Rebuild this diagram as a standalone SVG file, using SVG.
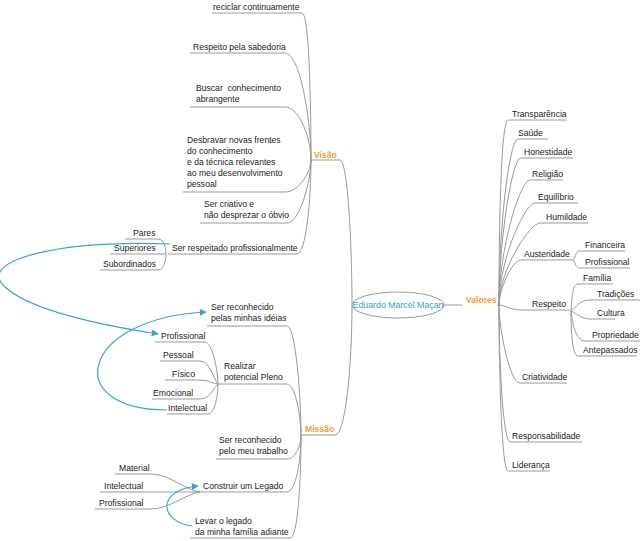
<svg xmlns="http://www.w3.org/2000/svg" width="640" height="541" viewBox="0 0 640 541">
<style>
text{font-family:"Liberation Sans",Arial,sans-serif;font-size:8.6px;fill:#222;white-space:pre}
.m{fill:#f39a3c;font-weight:bold}
.c{fill:#3a9ec0;font-size:8.8px}
.l{fill:none;stroke:#999;stroke-width:1}
.b{fill:none;stroke:#3aa3d3;stroke-width:1.2;marker-end:url(#ar)}
</style>
<defs><marker id="ar" viewBox="0 0 10 10" refX="9" refY="5" markerWidth="7" markerHeight="7" orient="auto" markerUnits="userSpaceOnUse"><path d="M0,0L10,5L0,10z" fill="#3aa3d3"/></marker></defs>
<rect width="640" height="541" fill="#fff"/>
<g id="connectors">
<path class="l" d="M444,305H462 M497,305H499"/>
<path class="l" d="M310,160H340 C348,160 352,250 352,305"/>
<path class="l" d="M302,435H335 C346,435 352,360 352,305"/>
<path class="l" d="M212,13H302 C309,13 311,100 311,160"/>
<path class="l" d="M190,53H285 C300,53 311,120 311,160"/>
<path class="l" d="M190,107H285 C300,107 311,140 311,160"/>
<path class="l" d="M183,192H285 C300,192 311,170 311,160"/>
<path class="l" d="M200,223H287 C300,223 311,180 311,160"/>
<path class="l" d="M168,254H297 C306,254 311,200 311,160"/>
<path class="l" d="M125,239H158 C164,239 166,248 166,254 M110,254H166 M100,270H158 C164,270 166,260 166,254"/>
<path class="l" d="M207,326H287 C296,326 301,400 301,435"/>
<path class="l" d="M218,384H287 C296,384 301,420 301,435"/>
<path class="l" d="M216,459H287 C296,459 301,445 301,435"/>
<path class="l" d="M199,492H287 C296,492 301,460 301,435"/>
<path class="l" d="M190,538H290 C298,538 301,480 301,435"/>
<path class="l" d="M155,342H205 C212,342 218,370 218,384 M160,361H200 C210,361 214,380 218,384 M165,380H200 C208,380 214,384 218,384 M152,399H200 C210,399 214,388 218,384 M167,414H208 C215,414 218,395 218,384"/>
<path class="l" d="M115,474H150 C170,474 185,490 200,492 M100,492H200 M95,509H150 C170,509 185,494 200,492"/>
<path class="l" d="M567,120H508 C502,120 499,200 499,305"/>
<path class="l" d="M548,139H518 C510,139 499,220 499,305"/>
<path class="l" d="M573,158H521 C512,158 499,240 499,305"/>
<path class="l" d="M563,180H530 C520,180 499,250 499,305"/>
<path class="l" d="M578,203H535 C525,203 499,260 499,305"/>
<path class="l" d="M588,223H540 C530,223 499,270 499,305"/>
<path class="l" d="M573,260H521 C512,260 499,290 499,305"/>
<path class="l" d="M570,310H522 C510,310 505,305 499,305"/>
<path class="l" d="M567,383H520 C510,383 499,330 499,305"/>
<path class="l" d="M582,442H510 C503,442 499,360 499,305"/>
<path class="l" d="M550,471H508 C502,471 499,380 499,305"/>
<path class="l" d="M625,251H580 C575,251 575,260 573,260 M630,268H580 C575,268 575,260 573,260"/>
<path class="l" d="M613,284H578 C572,284 572,300 571,311 M640,300H590 C580,300 575,308 571,311 M615,319H590 C580,319 575,312 571,311 M640,341H585 C575,341 572,320 571,311 M637,356H578 C572,356 571,330 571,311"/>
<path class="b" d="M170,244 C60,240 -25,260 5,287 C30,310 100,325 158,334"/>
<path class="b" d="M167,410 C60,410 80,318 206,312"/>
<path class="b" d="M192,526 C160,522 155,490 198,486"/>
</g>
<g id="center"><ellipse cx="398" cy="305" rx="46" ry="13" fill="#fff" stroke="#999"/><text class="c" x="398" y="308" text-anchor="middle">Eduardo Marcel Maçan</text></g>
<g id="visao"><text class="m" x="314" y="158">Visão</text></g>
<g id="missao"><text class="m" x="305" y="432">Missão</text></g>
<g id="valores"><text class="m" x="466" y="303">Valores</text></g>
<g id="v1"><text x="213" y="10">reciclar continuamente</text></g>
<g id="v2"><text x="193" y="50">Respeito pela sabedoria</text></g>
<g id="v3"><text x="196" y="91">Buscar  conhecimento</text><text x="196" y="102">abrangente</text></g>
<g id="v4"><text x="187" y="143">Desbravar novas frentes</text><text x="187" y="154">do conhecimento</text><text x="187" y="165">e da técnica relevantes</text><text x="187" y="176">ao meu desenvolvimento</text><text x="187" y="187">pessoal</text></g>
<g id="v5"><text x="204" y="207">Ser criativo e</text><text x="204" y="218">não desprezar o óbvio</text></g>
<g id="v6"><text x="172" y="251">Ser respeitado profissionalmente</text></g>
<g id="v6a"><text x="133" y="236">Pares</text></g>
<g id="v6b"><text x="114" y="251">Superiores</text></g>
<g id="v6c"><text x="103" y="267">Subordinados</text></g>
<g id="m1"><text x="211" y="310">Ser reconhecido</text><text x="211" y="321">pelas minhas idéias</text></g>
<g id="m2"><text x="224" y="369">Realizar</text><text x="224" y="380">potencial Pleno</text></g>
<g id="m2a"><text x="161" y="339">Profissional</text></g>
<g id="m2b"><text x="163" y="358">Pessoal</text></g>
<g id="m2c"><text x="172" y="377">Físico</text></g>
<g id="m2d"><text x="153" y="396">Emocional</text></g>
<g id="m2e"><text x="168" y="411">Intelectual</text></g>
<g id="m3"><text x="219" y="443">Ser reconhecido</text><text x="219" y="454">pelo meu trabalho</text></g>
<g id="m4"><text x="203" y="489">Construir um Legado</text></g>
<g id="m4a"><text x="119" y="471">Material</text></g>
<g id="m4b"><text x="104" y="489">Intelectual</text></g>
<g id="m4c"><text x="99" y="506">Profissional</text></g>
<g id="m5"><text x="195" y="524">Levar o legado</text><text x="195" y="535">da minha família adiante</text></g>
<g id="r1"><text x="512" y="117">Transparência</text></g>
<g id="r2"><text x="518" y="136">Saúde</text></g>
<g id="r3"><text x="524" y="155">Honestidade</text></g>
<g id="r4"><text x="532" y="177">Religião</text></g>
<g id="r5"><text x="538" y="200">Equilíbrio</text></g>
<g id="r6"><text x="546" y="220">Humildade</text></g>
<g id="r7"><text x="524" y="257">Austeridade</text></g>
<g id="r7a"><text x="585" y="248">Financeira</text></g>
<g id="r7b"><text x="585" y="265">Profissional</text></g>
<g id="r8"><text x="532" y="307">Respeito</text></g>
<g id="r8a"><text x="583" y="281">Família</text></g>
<g id="r8b"><text x="597" y="297">Tradições</text></g>
<g id="r8c"><text x="597" y="316">Cultura</text></g>
<g id="r8d"><text x="592" y="338">Propriedade</text></g>
<g id="r8e"><text x="583" y="353">Antepassados</text></g>
<g id="r9"><text x="522" y="380">Criatividade</text></g>
<g id="r10"><text x="512" y="439">Responsabilidade</text></g>
<g id="r11"><text x="512" y="468">Liderança</text></g>
</svg>
